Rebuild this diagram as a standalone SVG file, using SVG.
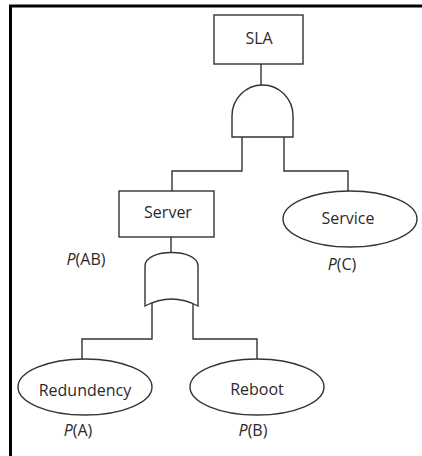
<svg xmlns="http://www.w3.org/2000/svg" width="422" height="456" viewBox="0 0 422 456">
<style>
.shape{fill:#fff;stroke:#333;stroke-width:1.4}
.wire{fill:none;stroke:#333;stroke-width:1.4}
.lbl{font-family:"Open Sans","Liberation Sans",sans-serif;font-size:16px;fill:#2a2a2a;text-anchor:middle}
.prob{font-family:"Open Sans","Liberation Sans",sans-serif;font-size:16px;fill:#2a2a2a;text-anchor:middle}
</style>
<rect width="422" height="456" fill="#fff"/>
<path d="M10.5,456 V6 H422" fill="none" stroke="#000" stroke-width="3"/>
<g id="connectors">
<line class="wire" x1="261" y1="64" x2="261" y2="86"/>
<polyline class="wire" points="242,137 242,171 172,171 172,191"/>
<polyline class="wire" points="284,137 284,171 348,171 348,191"/>
<line class="wire" x1="171" y1="237" x2="171" y2="253"/>
<polyline class="wire" points="152,303 152,339 82,339 82,359"/>
<polyline class="wire" points="193,303 193,339 257,339 257,359"/>
</g>
<g id="sla">
<rect class="shape" x="214" y="15" width="89" height="49"/>
<text class="lbl" x="259" y="44">SLA</text>
</g>
<g id="and-gate">
<path class="shape" d="M232,137 V116 A30.5 31 0 0 1 293,116 V137 Z"/>
</g>
<g id="server">
<rect class="shape" x="119" y="191" width="95" height="46"/>
<text class="lbl" x="168" y="218">Server</text>
<text class="prob" x="86" y="265"><tspan font-style="italic">P</tspan>(AB)</text>
</g>
<g id="service">
<ellipse class="shape" cx="350" cy="219" rx="67" ry="28"/>
<text class="lbl" x="348" y="224">Service</text>
<text class="prob" x="342" y="270"><tspan font-style="italic">P</tspan>(C)</text>
</g>
<g id="or-gate">
<path class="shape" d="M145,306 V266 C145,248 198,248 198,266 V306 Q171.5,292 145,306 Z"/>
</g>
<g id="redundency">
<ellipse class="shape" cx="85" cy="387" rx="67" ry="28"/>
<text class="lbl" x="85" y="396">Redundency</text>
<text class="prob" x="78" y="436"><tspan font-style="italic">P</tspan>(A)</text>
</g>
<g id="reboot">
<ellipse class="shape" cx="257" cy="387" rx="67" ry="28"/>
<text class="lbl" x="257" y="395">Reboot</text>
<text class="prob" x="253" y="436"><tspan font-style="italic">P</tspan>(B)</text>
</g>
</svg>
